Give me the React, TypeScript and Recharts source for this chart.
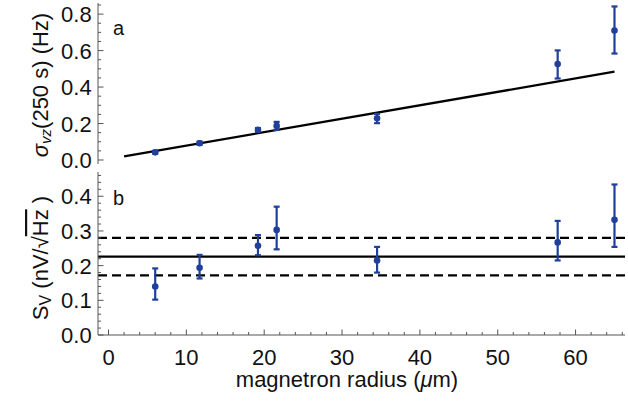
import React from 'react';
import { ComposedChart, Scatter, XAxis, YAxis, ErrorBar, ReferenceLine, Label } from 'recharts';

// magnetron radius (µm)
const radius = [6.0, 11.7, 19.2, 21.6, 34.5, 57.7, 65.0];
// panel a: sigma_vz(250 s) in Hz
const sigmaVz = [0.042, 0.092, 0.165, 0.187, 0.229, 0.526, 0.71];
const sigmaLow = [0.034, 0.083, 0.155, 0.165, 0.202, 0.447, 0.584];
const sigmaHigh = [0.05, 0.101, 0.175, 0.209, 0.253, 0.601, 0.842];
// linear fit in panel a
const fitX = [2.0, 65.0];
const fitY = [0.02, 0.484];
// panel b: S_V in nV/sqrt(Hz)
const svVals = [0.14, 0.194, 0.257, 0.303, 0.215, 0.267, 0.332];
const svLow = [0.102, 0.163, 0.23, 0.247, 0.18, 0.215, 0.254];
const svHigh = [0.192, 0.231, 0.288, 0.37, 0.254, 0.329, 0.434];
const svMean = 0.226;
const svBand = [0.172, 0.28];

// ticks
const xMajor = [0, 10, 20, 30, 40, 50, 60];
const xTicks = Array.from({ length: 34 }, (_, i) => i * 2);
const yaMajor = [0, 0.2, 0.4, 0.6, 0.8];
const yaTicks = Array.from({ length: 18 }, (_, i) => +(i * 0.05).toFixed(2));
const ybMajor = [0, 0.1, 0.2, 0.3, 0.4];
const ybTicks = Array.from({ length: 24 }, (_, i) => +(i * 0.02).toFixed(2));

const BLUE = '#1f3f9a';
const FRAME = '#555';
const FONT = '"Liberation Sans", Arial, Helvetica, sans-serif';

const dataA = radius.map((x, i) => ({ x, y: sigmaVz[i], err: [sigmaVz[i] - sigmaLow[i], sigmaHigh[i] - sigmaVz[i]] }));
const dataB = radius.map((x, i) => ({ x, y: svVals[i], err: [svVals[i] - svLow[i], svHigh[i] - svVals[i]] }));

const isMajor = (v: number, majors: number[]) => majors.some((m) => Math.abs(m - v) < 1e-6);

const makeTick = (side: 'left' | 'right' | 'top' | 'bottom', majors: number[], showLabel: boolean, fmt: (v: number) => string) =>
  (props: any) => {
    const { x, y, payload } = props;
    const v = payload.value;
    const major = isMajor(v, majors);
    const len = major ? 5.5 : 3;
    let line = null;
    if (side === 'left') line = <line x1={x} y1={y} x2={x + len} y2={y} stroke={FRAME} strokeWidth={1} />;
    if (side === 'right') line = <line x1={x} y1={y} x2={x - len} y2={y} stroke={FRAME} strokeWidth={1} />;
    if (side === 'bottom') line = <line x1={x} y1={y} x2={x} y2={y - len} stroke={FRAME} strokeWidth={1} />;
    if (side === 'top') line = <line x1={x} y1={y} x2={x} y2={y + len} stroke={FRAME} strokeWidth={1} />;
    let label = null;
    if (showLabel && major) {
      if (side === 'left')
        label = (
          <text x={x - 6.3} y={y + 8} textAnchor="end" fontSize={22} fontFamily={FONT} fill="#111">
            {fmt(v)}
          </text>
        );
      if (side === 'bottom')
        label = (
          <text x={x} y={y + 30} textAnchor="middle" fontSize={22} fontFamily={FONT} fill="#111">
            {fmt(v)}
          </text>
        );
    }
    return (
      <g>
        {line}
        {label}
      </g>
    );
  };

const dot = (props: any) => <circle cx={props.cx} cy={props.cy} r={3.3} fill={BLUE} />;

const f1 = (v: number) => v.toFixed(1);
const f0 = (v: number) => String(v);

const XDOM: [number, number] = [-1.35, 66.35];
const TOP_B = 168;

export default function App() {
  return (
    <div style={{ position: 'absolute', left: 0, top: 0, width: 628, height: 415, background: '#fff' }}>
      <div style={{ position: 'absolute', left: 0, top: TOP_B, zIndex: 0 }}>
        <ComposedChart width={628} height={247} data={dataB} margin={{ top: 4, right: 3, bottom: 0, left: 8 }}>
          <XAxis
            dataKey="x"
            type="number"
            domain={XDOM}
            allowDataOverflow
            ticks={xTicks}
            interval={0}
            height={80}
            tickSize={0}
            tickMargin={0}
            axisLine={{ stroke: FRAME }}
            tick={makeTick('bottom', xMajor, true, f0)}
          >
            <Label
              content={() => (
                <text x={347} y={387 - TOP_B} textAnchor="middle" fontSize={22} fontFamily={FONT} fill="#111">
                  magnetron radius (<tspan fontStyle="italic">μ</tspan>m)
                </text>
              )}
            />
          </XAxis>
          <XAxis
            xAxisId="top"
            orientation="top"
            dataKey="x"
            type="number"
            domain={XDOM}
            allowDataOverflow
            ticks={xTicks}
            interval={0}
            height={0}
            tickSize={0}
            tickMargin={0}
            axisLine={{ stroke: FRAME }}
            tick={makeTick('top', xMajor, false, f0)}
          />
          <YAxis
            type="number"
            domain={[0, 0.47]}
            allowDataOverflow
            ticks={ybTicks}
            interval={0}
            width={90}
            tickSize={0}
            tickMargin={0}
            axisLine={{ stroke: FRAME }}
            tick={makeTick('left', ybMajor, true, f1)}
          >
            <Label
              content={() => (
                <text
                  x={40}
                  y={90}
                  transform="rotate(-90 40 90)"
                  textAnchor="middle"
                  dominantBaseline="central"
                  fontSize={22}
                  fontFamily={FONT}
                  fill="#111"
                >
                  <tspan>S</tspan>
                  <tspan fontSize={16} dy={5}>V</tspan>
                  <tspan dy={-5}> (nV/√</tspan>
                  <tspan style={{ textDecoration: 'overline' }}>Hz</tspan>
                  <tspan> )</tspan>
                </text>
              )}
            />
          </YAxis>
          <YAxis
            yAxisId="right"
            orientation="right"
            type="number"
            domain={[0, 0.47]}
            allowDataOverflow
            ticks={ybTicks}
            interval={0}
            width={0}
            tickSize={0}
            tickMargin={0}
            axisLine={{ stroke: FRAME }}
            tick={makeTick('right', ybMajor, false, f1)}
          />
          <ReferenceLine y={svBand[1]} stroke="#000" strokeWidth={2.3} strokeDasharray="9 5" />
          <ReferenceLine y={svMean} stroke="#000" strokeWidth={2.3} />
          <ReferenceLine y={svBand[0]} stroke="#000" strokeWidth={2.3} strokeDasharray="9 5" />
          <Scatter dataKey="y" fill={BLUE} shape={dot} isAnimationActive={false}>
            <ErrorBar dataKey="err" direction="y" width={3} stroke={BLUE} strokeWidth={2.2} isAnimationActive={false} />
          </Scatter>
          <text x={113} y={37} fontSize={20} fontFamily={FONT} fill="#111">b</text>
        </ComposedChart>
      </div>
      <div style={{ position: 'absolute', left: 0, top: 0, zIndex: 1 }}>
        <ComposedChart width={628} height={176} data={dataA} margin={{ top: 3, right: 3, bottom: 12, left: 8 }}>
          <XAxis
            dataKey="x"
            type="number"
            domain={XDOM}
            allowDataOverflow
            ticks={xTicks}
            interval={0}
            height={0}
            tickSize={0}
            tickMargin={0}
            axisLine={{ stroke: FRAME }}
            tick={makeTick('bottom', xMajor, false, f0)}
          />
          <XAxis
            xAxisId="top"
            orientation="top"
            dataKey="x"
            type="number"
            domain={XDOM}
            allowDataOverflow
            ticks={xTicks}
            interval={0}
            height={0}
            tickSize={0}
            tickMargin={0}
            axisLine={{ stroke: FRAME }}
            tick={makeTick('top', xMajor, false, f0)}
          />
          <YAxis
            type="number"
            domain={[-0.022, 0.861]}
            allowDataOverflow
            ticks={yaTicks}
            interval={0}
            width={90}
            tickSize={0}
            tickMargin={0}
            axisLine={{ stroke: FRAME }}
            tick={makeTick('left', yaMajor, true, f1)}
          >
            <Label
              content={() => (
                <text
                  x={40}
                  y={85}
                  transform="rotate(-90 40 85)"
                  textAnchor="middle"
                  dominantBaseline="central"
                  fontSize={22}
                  fontFamily={FONT}
                  fill="#111"
                >
                  <tspan fontStyle="italic">σ</tspan>
                  <tspan fontSize={15} fontStyle="italic" dy={5}>vz</tspan>
                  <tspan dy={-5}>(250 s) (Hz)</tspan>
                </text>
              )}
            />
          </YAxis>
          <YAxis
            yAxisId="right"
            orientation="right"
            type="number"
            domain={[-0.022, 0.861]}
            allowDataOverflow
            ticks={yaTicks}
            interval={0}
            width={0}
            tickSize={0}
            tickMargin={0}
            axisLine={{ stroke: FRAME }}
            tick={makeTick('right', yaMajor, false, f1)}
          />
          <ReferenceLine
            segment={[
              { x: fitX[0], y: fitY[0] },
              { x: fitX[1], y: fitY[1] },
            ]}
            stroke="#000"
            strokeWidth={2.3}
          />
          <Scatter dataKey="y" fill={BLUE} shape={dot} isAnimationActive={false}>
            <ErrorBar dataKey="err" direction="y" width={3} stroke={BLUE} strokeWidth={2.2} isAnimationActive={false} />
          </Scatter>
          <text x={113} y={35} fontSize={20} fontFamily={FONT} fill="#111">a</text>
        </ComposedChart>
      </div>
    </div>
  );
}
